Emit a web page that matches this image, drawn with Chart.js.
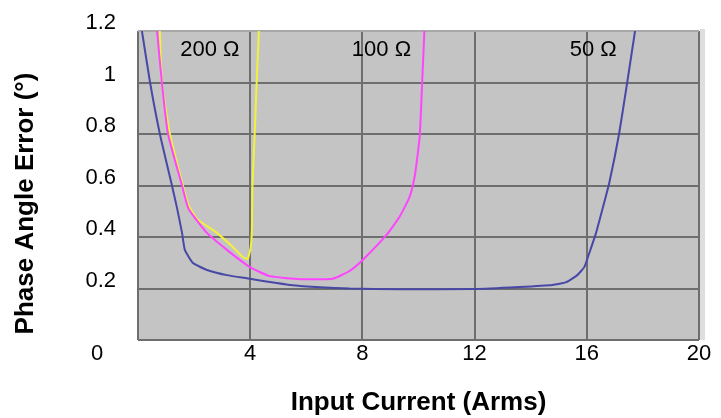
<!DOCTYPE html>
<html>
<head>
<meta charset="utf-8">
<script src="https://cdn.jsdelivr.net/npm/chart.js@4/dist/chart.umd.min.js"></script>
<style>
  html, body { margin: 0; padding: 0; background: #fff; }
  #wrap { width: 721px; height: 418px; }
</style>
</head>
<body>
<div id="wrap"><canvas id="chart"></canvas></div>
<script>
// 50 Ω curve (blue)
const ohm50X = [0.14, 0.43, 0.78, 1.21, 1.39, 1.57, 1.67, 1.96, 2.46, 3.17, 3.99, 4.7, 5.41, 6.5, 7.54, 9.32, 12.0, 13.59, 14.77, 15.27, 15.66, 15.91, 16.09, 16.33, 16.55, 16.8, 17.15, 17.44, 17.72];
const ohm50Y = [1.2, 1.0, 0.8, 0.6, 0.513, 0.416, 0.35, 0.299, 0.272, 0.252, 0.238, 0.225, 0.214, 0.205, 0.2, 0.197, 0.198, 0.206, 0.214, 0.225, 0.252, 0.283, 0.338, 0.416, 0.505, 0.61, 0.8, 1.0, 1.2];

// 100 Ω curve (magenta)
const ohm100X = [0.68, 0.85, 1.07, 1.57, 1.8, 2.46, 3.17, 3.99, 4.7, 5.77, 6.94, 7.54, 8.01, 8.86, 9.32, 9.68, 9.86, 9.97, 10.05, 10.13, 10.21];
const ohm100Y = [1.2, 1.0, 0.8, 0.6, 0.51, 0.416, 0.35, 0.283, 0.248, 0.236, 0.238, 0.268, 0.311, 0.408, 0.478, 0.555, 0.633, 0.72, 0.8, 1.0, 1.2];

// 200 Ω curve (yellow)
const ohm200X = [0.78, 0.85, 1.14, 1.6, 1.8, 2.1, 2.81, 3.38, 3.74, 3.91, 4.02, 4.06, 4.08, 4.16, 4.23, 4.31];
const ohm200Y = [1.2, 1.0, 0.8, 0.6, 0.525, 0.47, 0.416, 0.361, 0.322, 0.315, 0.361, 0.427, 0.6, 0.8, 1.0, 1.2];

// curve labels inside the plot
const curveLabels = ['200 Ω', '100 Ω', '50 Ω'];
const curveLabelX = [2.56, 8.68, 16.23];
const curveLabelY = [1.125, 1.125, 1.125];

const xTicks = [0, 4, 8, 12, 16, 20];
const yTitle = 'Phase Angle Error (°)';

const toPoints = (xs, ys) => xs.map((x, i) => ({ x: x, y: ys[i] }));

const FONT = '"Liberation Sans", Arial, sans-serif';

// 灰色绘图区 + 曲线标注 + y轴标题和 "0"
const plotDecor = {
  id: 'plotDecor',
  beforeDraw(chart) {
    const { ctx, chartArea: a } = chart;
    ctx.save();
    ctx.fillStyle = '#c4c4c4';
    ctx.fillRect(a.left, a.top, a.right - a.left, a.bottom - a.top);
    ctx.fillStyle = '#dedede';
    ctx.fillRect(a.right + 1, a.top - 2, 5, a.bottom - a.top + 2);
    ctx.restore();
  },
  afterDatasetsDraw(chart) {
    const { ctx, chartArea: a, scales } = chart;
    ctx.save();
    ctx.font = '22px ' + FONT;
    ctx.fillStyle = '#000';
    ctx.textAlign = 'center';
    ctx.textBaseline = 'middle';
    curveLabels.forEach((t, i) => {
      ctx.fillText(t, scales.x.getPixelForValue(curveLabelX[i]), scales.y.getPixelForValue(curveLabelY[i]));
    });
    ctx.fillText('0', a.left - 41, a.bottom + 14);

    ctx.font = 'bold 26px ' + FONT;
    ctx.translate(26, (a.top + a.bottom) / 2 + 18);
    ctx.rotate(-Math.PI / 2);
    ctx.fillText(yTitle, 0, 0);
    ctx.restore();
  }
};

const config = {
  type: 'scatter',
  data: {
    datasets: [
      {
        label: '50 Ω',
        data: toPoints(ohm50X, ohm50Y),
        borderColor: '#4848a6',
        backgroundColor: '#4848a6'
      },
      {
        label: '100 Ω',
        data: toPoints(ohm100X, ohm100Y),
        borderColor: '#ff44ff',
        backgroundColor: '#ff44ff'
      },
      {
        label: '200 Ω',
        data: toPoints(ohm200X, ohm200Y),
        borderColor: '#f2f23a',
        backgroundColor: '#f2f23a'
      }
    ]
  },
  options: {
    responsive: true,
    maintainAspectRatio: false,
    animation: false,
    showLine: true,
    elements: {
      point: { radius: 0 },
      line: { borderWidth: 2, tension: 0.15, fill: false }
    },
    layout: { padding: { top: 31, right: 22, left: 0, bottom: 0 } },
    plugins: {
      legend: { display: false },
      tooltip: { enabled: false }
    },
    scales: {
      x: {
        type: 'linear',
        min: 0,
        max: 20,
        afterBuildTicks: axis => { axis.ticks = xTicks.map(v => ({ value: v })); },
        afterFit: axis => { axis.height = 78; },
        border: { display: false },
        grid: { color: '#6e6e6e', lineWidth: 2, drawTicks: false },
        ticks: {
          padding: 1,
          color: '#000',
          font: { family: FONT, size: 22 },
          maxRotation: 0,
          callback: v => (v === 0 ? '' : String(v))
        },
        title: {
          display: true,
          text: 'Input Current (Arms)',
          color: '#000',
          font: { family: FONT, size: 26, weight: 'bold' },
          padding: { top: 0, bottom: 0 }
        }
      },
      y: {
        min: 0,
        max: 1.2,
        afterFit: axis => {
          axis.width = 138;
          axis.paddingTop = 0;
          axis.paddingBottom = 0;
        },
        border: { display: false },
        grid: {
          color: ctx => (ctx.tick && ctx.tick.value >= 1.19 ? '#a8a8a8' : '#6e6e6e'),
          lineWidth: 2,
          drawTicks: false
        },
        ticks: {
          stepSize: 0.2,
          padding: 22,
          labelOffset: -8,
          color: '#000',
          font: { family: FONT, size: 22 },
          callback: v => {
            const r = +v.toFixed(1);
            return r === 0 ? '' : String(r);
          }
        },
        title: { display: false }
      }
    }
  },
  plugins: [plotDecor]
};

new Chart(document.getElementById('chart'), config);
</script>
</body>
</html>
